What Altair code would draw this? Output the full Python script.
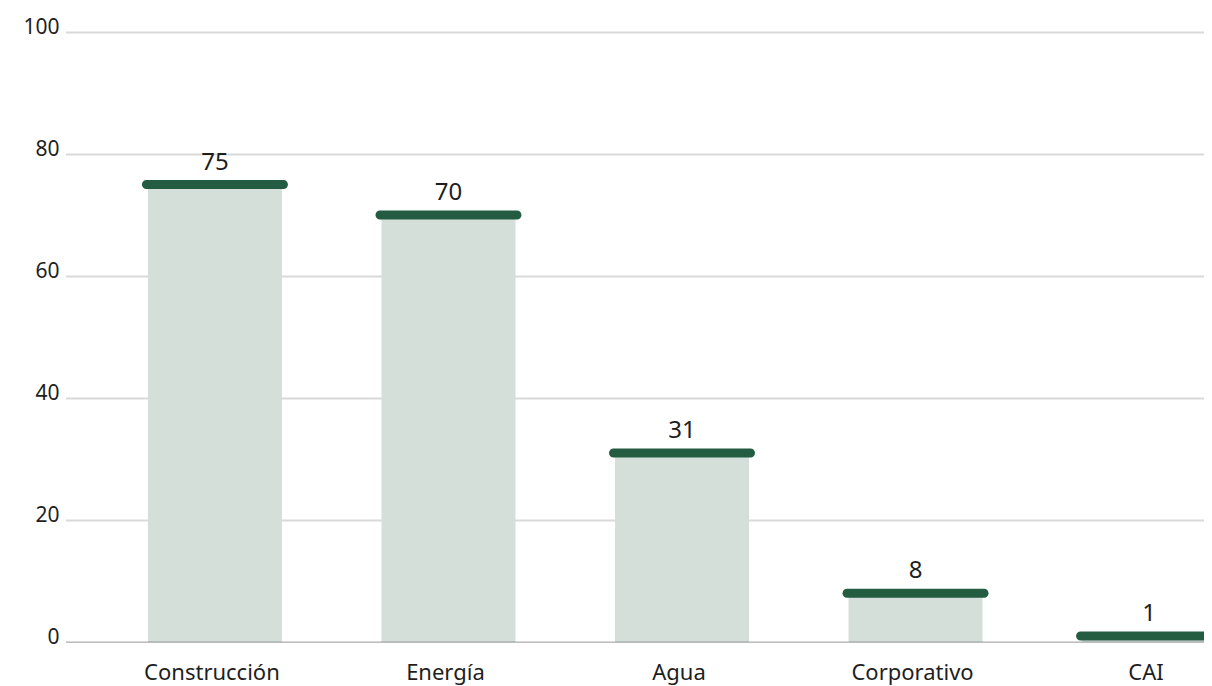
import altair as alt
import pandas as pd

categories = ["Construcción", "Energía", "Agua", "Corporativo", "CAI"]
values = [75, 70, 31, 8, 1]
y_ticks = [0, 20, 40, 60, 80, 100]

df = pd.DataFrame({"cat": categories, "val": values})
zero_df = pd.DataFrame({"val": [0]})

FONT = "Noto Sans"
TEXT = "#1e1e1e"

x_enc = alt.X("cat:N", sort=categories,
              scale=alt.Scale(paddingInner=0, paddingOuter=0.142, range=[0, 1234]),
              axis=alt.Axis(title=None, labelAngle=0, domain=False, ticks=False, grid=False,
                            labelFontSize=22, labelPadding=37, labelColor=TEXT,
                            labelOffset=-3,
                            labelFont=FONT, labelBaseline="alphabetic"))
y_enc = alt.Y("val:Q", scale=alt.Scale(domain=[0, 100], nice=False),
              axis=alt.Axis(title=None, values=y_ticks, domain=False, ticks=False,
                            grid=True, gridWidth=2,
                            gridColor=alt.condition("datum.value == 0",
                                                    alt.value("transparent"),
                                                    alt.value("#d9d9d9")),
                            labelFontSize=21, labelPadding=6, labelColor=TEXT,
                            labelBaseline="alphabetic", labelOffset=1, labelFont=FONT))

base = alt.Chart(df)
bars = base.mark_bar(size=134, color="#d4dfda").encode(x=x_enc, y=y_enc)
zero = alt.Chart(zero_df).mark_rule(color="black", opacity=0.15, strokeWidth=2).encode(
    y=alt.Y("val:Q"))
edge = alt.Chart(zero_df).mark_rule(color="white", strokeWidth=2).encode(
    x=alt.value(0), y=alt.value(-2), y2=alt.value(612))
caps = base.mark_tick(size=146, thickness=9, cornerRadius=4.5, color="#235c41",
                      opacity=1, orient="horizontal").encode(x=x_enc, y="val:Q")
labels = base.mark_text(dy=-15, baseline="alphabetic", fontSize=24, font=FONT,
                        color=TEXT).encode(x=x_enc, y="val:Q", text="val:Q")

chart = (bars + zero + edge + caps + labels).properties(
    width=1139, height=610,
    autosize=alt.AutoSizeParams(type="none"),
    padding={"left": 57, "top": 24, "right": 0, "bottom": 52},
).configure_view(strokeWidth=0, stroke="transparent").configure_axis(
    domain=False, ticks=False
).configure(background="white")

chart.save("out.html", embed_options={"renderer": "svg", "actions": False})
